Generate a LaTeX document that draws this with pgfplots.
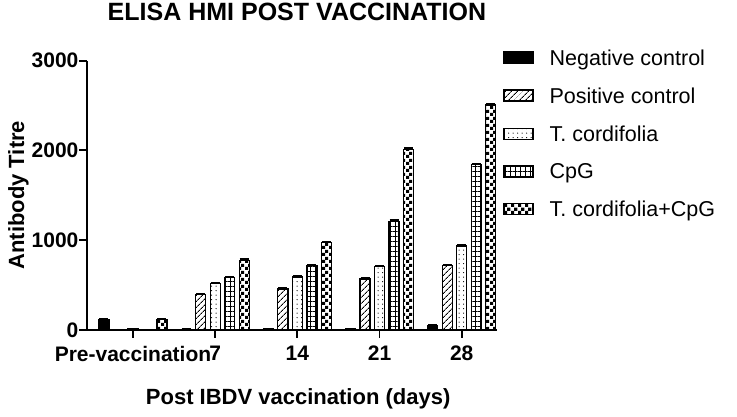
\documentclass[border=0pt]{standalone}
\usepackage{pgfplots}
\pgfplotsset{compat=1.18}
\usepackage{fontspec}
\setmainfont{Liberation Sans}
\usetikzlibrary{patterns,patterns.meta}

% checkerboard with larger squares than the stock one
\pgfdeclarepatternformonly{bigchecker}{\pgfpointorigin}{\pgfqpoint{7pt}{7pt}}{\pgfqpoint{7pt}{7pt}}{%
  \pgfpathrectangle{\pgfpointorigin}{\pgfqpoint{3.5pt}{3.5pt}}%
  \pgfpathrectangle{\pgfqpoint{3.5pt}{3.5pt}}{\pgfqpoint{3.5pt}{3.5pt}}%
  \pgfusepath{fill}}

\begin{document}
\begin{tikzpicture}
\begin{axis}[
    ybar=4.5pt,
    bar width=10pt,
    scale only axis,
    width=410pt,
    height=269pt,
    clip=false,
    xmin=-0.56, xmax=4.43,
    ymin=0, ymax=3000,
    xtick={0,1,2,3,4},
    xticklabels={Pre-vaccination,7,14,21,28},
    ytick={0,1000,2000,3000},
    axis lines=left,
    axis line style={-, line width=1.8pt},
    tick style={line width=1.8pt, black},
    tick align=outside,
    major tick length=8pt,
    ticklabel style={font=\bfseries\fontsize{21}{23}\selectfont},
    yticklabel style={xshift=3pt},
    xticklabel style={yshift=-5pt},
    /pgf/number format/assume math mode=true,
    /pgf/number format/1000 sep={},
    xlabel={Post IBDV vaccination (days)},
    ylabel={Antibody Titre},
    label style={font=\bfseries\fontsize{22}{24}\selectfont},
    xlabel style={at={(axis description cs:0.515,-0.279)}, anchor=base},
    ylabel style={at={(axis description cs:-0.167,0.5)}, anchor=center},
    title={ELISA HMI POST VACCINATION},
    title style={font=\bfseries\fontsize{25}{27}\selectfont,
      at={(axis description cs:0.512,1.126)}, anchor=base},
    legend style={draw=none, at={(axis description cs:1.015,1.05)}, anchor=north west,
      font=\fontsize{21.5}{23}\selectfont, row sep=17pt, column sep=14pt, inner sep=0pt},
    legend cell align=left,
    legend image code/.code={\draw[#1, line width=1.2pt] (0pt,-5pt) rectangle (29pt,6pt);},
    every axis plot/.append style={draw=black, line width=1.3pt,
      error bars/y dir=plus, error bars/y explicit,
      error bars/error mark=|,
      error bars/error mark options={mark size=4.5pt, line width=1.5pt, black},
      error bars/error bar style={line width=1.2pt, black}},
]
% Negative control
\addplot[fill=black] coordinates {
  (0,115) +- (0,10) (1,5) +- (0,3) (2,10) +- (0,3) (3,10) +- (0,3) (4,45) +- (0,8)
};
% Positive control
\addplot[pattern={Lines[angle=45,distance=4pt,line width=1pt]}] coordinates {
  (0,0) +- (0,0) (1,395) +- (0,10) (2,455) +- (0,10) (3,565) +- (0,10) (4,715) +- (0,10)
};
% T. cordifolia
\addplot[pattern={Dots[distance=4.5pt,radius=0.6pt]}] coordinates {
  (0,10) +- (0,3) (1,515) +- (0,10) (2,590) +- (0,10) (3,705) +- (0,10) (4,935) +- (0,10)
};
% CpG
\addplot[pattern={Hatch[angle=0,distance=5pt,line width=0.9pt]}] coordinates {
  (0,0) +- (0,0) (1,580) +- (0,10) (2,715) +- (0,10) (3,1210) +- (0,15) (4,1840) +- (0,10)
};
% T. cordifolia + CpG
\addplot[pattern=bigchecker] coordinates {
  (0,115) +- (0,10) (1,775) +- (0,12) (2,970) +- (0,12) (3,2010) +- (0,15) (4,2505) +- (0,15)
};
\legend{Negative control, Positive control, T. cordifolia, CpG, T. cordifolia+CpG}
% page extent matching the reference margins
\path (axis description cs:-0.212,-0.323) (axis description cs:1.585,1.219);
\end{axis}
\end{tikzpicture}
\end{document}
